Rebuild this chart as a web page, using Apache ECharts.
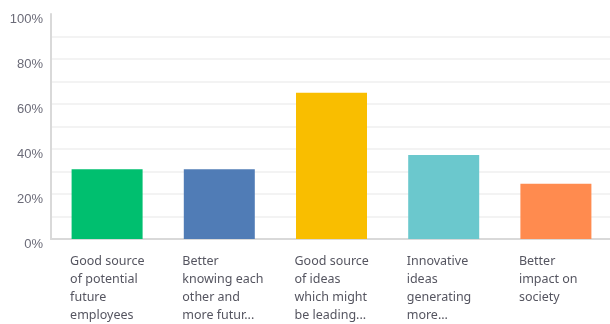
<!DOCTYPE html>
<html>
<head>
<meta charset="utf-8">
<script src="https://cdn.jsdelivr.net/npm/echarts@6/dist/echarts.min.js"></script>
<style>
  html, body { margin: 0; padding: 0; background: #fff; }
  #chart { width: 610px; height: 324px; }
</style>
</head>
<body>
<div id="chart"></div>
<script>
// Answer options (wrapped as shown under each bar)
const categories = [
  'Good source\nof potential\nfuture\nemployees',
  'Better\nknowing each\nother and\nmore futur...',
  'Good source\nof ideas\nwhich might\nbe leading...',
  'Innovative\nideas\ngenerating\nmore...',
  'Better\nimpact on\nsociety'
];
// Share of responses, percent
const values = [31.0, 31.0, 65.0, 37.3, 24.6];
const barColors = ['#00bf6f', '#507cb6', '#f9be00', '#6bc8cd', '#ff8b4f'];
// Y-axis ticks: gridlines every 10, labels every 20
const yTicks = [0, 10, 20, 30, 40, 50, 60, 70, 80, 90, 100];

const chart = echarts.init(document.getElementById('chart'), null, { renderer: 'canvas' });

const gridColors = yTicks.map(t => (t === 0 || t === 100) ? 'rgba(0,0,0,0)' : '#efefef');

chart.setOption({
  animation: false,
  grid: { left: 51, right: -2, top: 14, bottom: 85, containLabel: false, outerBoundsMode: 'none' },
  xAxis: {
    type: 'category',
    data: categories,
    axisLine: { show: true, lineStyle: { color: '#d9d9d9', width: 2 } },
    axisTick: { show: false },
    axisLabel: {
      interval: 0,
      align: 'left',
      margin: 13,
      padding: [0, 0, 0, -37],
      color: '#555560',
      fontFamily: 'Noto Sans',
      fontSize: 12.5,
      lineHeight: 18
    }
  },
  yAxis: {
    type: 'value',
    min: 0,
    max: 100,
    interval: 10,
    axisLine: { show: true, lineStyle: { color: '#d9d9d9', width: 2 } },
    axisTick: { show: false },
    splitLine: { show: true, lineStyle: { color: gridColors, width: 1.5 } },
    axisLabel: {
      margin: 8,
      verticalAlign: 'top',
      lineHeight: 10,
      color: '#6b6b78',
      fontFamily: 'Liberation Sans',
      fontSize: 13,
      formatter: v => (v % 20 === 0 ? v + '%' : '')
    }
  },
  series: [{
    type: 'bar',
    data: values.map((v, i) => ({ value: v, itemStyle: { color: barColors[i] } })),
    barWidth: 71
  }]
});
</script>
</body>
</html>
